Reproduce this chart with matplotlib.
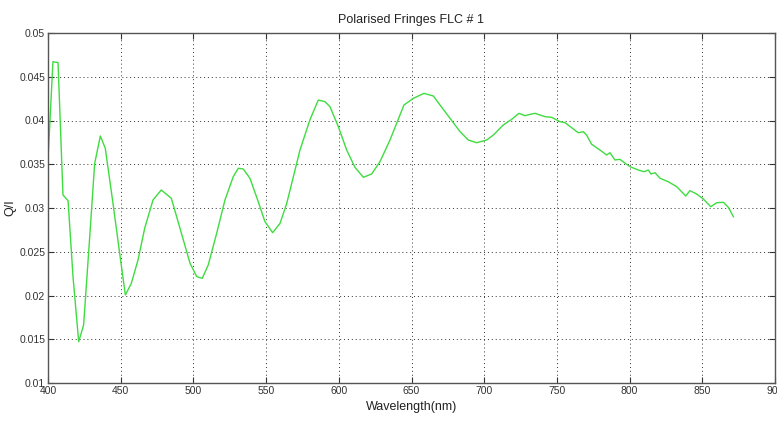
import matplotlib
matplotlib.use("Agg")
import matplotlib.pyplot as plt
import numpy as np

wavelength = [400.0, 403.4, 406.9, 410.3, 413.8, 417.2, 421.1, 424.5, 428.7, 432.1,
              436.0, 439.4, 444.7, 449.3, 453.2, 457.3, 461.9, 466.5, 472.2, 477.9,
              484.8, 488.5, 493.1, 497.7, 502.3, 506.1, 510.2, 516.0, 521.7, 527.4,
              530.9, 534.3, 538.9, 544.6, 549.2, 554.5, 559.6, 564.2, 569.9, 573.3,
              580.2, 585.9, 590.5, 593.9, 599.7, 605.4, 611.1, 616.9, 622.6, 628.3,
              635.2, 639.8, 644.8, 651.3, 658.6, 665.0, 669.6, 676.5, 683.4, 689.1,
              694.8, 701.7, 706.3, 713.1, 718.9, 723.9, 728.0, 731.5, 734.9, 741.8,
              746.4, 752.1, 755.6, 764.7, 768.2, 770.4, 773.9, 779.6, 784.2, 786.5,
              789.9, 793.3, 800.3, 806.0, 809.9, 812.9, 814.7, 817.5, 820.9, 826.6,
              832.4, 838.6, 841.5, 846.1, 850.7, 855.8, 859.9, 864.5, 867.9, 871.4]
q_over_i = [0.0355, 0.04672, 0.04661, 0.03149, 0.03084, 0.02215, 0.01472, 0.01663, 0.02672, 0.0351,
            0.03823, 0.03682, 0.03053, 0.02482, 0.02006, 0.02139, 0.02406, 0.02768, 0.03091, 0.03206,
            0.03111, 0.0290, 0.02634, 0.02368, 0.02215, 0.02197, 0.02349, 0.02711, 0.03091, 0.03358,
            0.03454, 0.03446, 0.03339, 0.03072, 0.02844, 0.02718, 0.02825, 0.03053, 0.03434, 0.03663,
            0.0401, 0.04234, 0.04215, 0.04158, 0.03929, 0.03663, 0.03465, 0.03351, 0.03389, 0.03529,
            0.03777, 0.03968, 0.04177, 0.04254, 0.0431, 0.0428, 0.04177, 0.04025, 0.03872, 0.03777,
            0.03746, 0.03777, 0.03834, 0.03949, 0.04013, 0.04082, 0.04055, 0.0407, 0.04082, 0.04044,
            0.04036, 0.03987, 0.03975, 0.0386, 0.03872, 0.03834, 0.03728, 0.03663, 0.03606, 0.03632,
            0.03549, 0.03556, 0.03472, 0.03434, 0.03415, 0.03434, 0.03389, 0.03403, 0.0334, 0.0330,
            0.03244, 0.03137, 0.03198, 0.0316, 0.03103, 0.03015, 0.0306, 0.03065, 0.03008, 0.0290]

xticks = np.arange(400, 901, 50)
yticks = [0.01, 0.015, 0.02, 0.025, 0.03, 0.035, 0.04, 0.045, 0.05]
ytick_labels = ["0.01", "0.015", "0.02", "0.025", "0.03", "0.035", "0.04", "0.045", "0.05"]

plt.rcParams["font.family"] = ["Liberation Sans Narrow", "Liberation Sans", "DejaVu Sans"]

fig = plt.figure(figsize=(7.77, 4.24), dpi=100)
ax = fig.add_axes([48 / 777, 41 / 424, 727 / 777, 350 / 424])

ax.plot(wavelength, q_over_i, color="#3fdc3f", lw=1.0)

ax.set_xlim(400, 900)
ax.set_ylim(0.01, 0.05)
ax.set_xticks(xticks)
ax.set_xticklabels([str(t) for t in xticks])
ax.set_yticks(yticks)
ax.set_yticklabels(ytick_labels)
ax.tick_params(direction="in", length=4, width=0.8, top=True, right=True,
               labelsize=7.5, colors="#333333", pad=2)
ax.grid(True, color="#333333", ls=(0, (1, 3)), lw=0.7)
for s in ax.spines.values():
    s.set_color("#555555")
    s.set_linewidth(1.0)

ax.set_title("Polarised Fringes FLC # 1", fontsize=9, color="#222222", pad=7)
ax.set_xlabel("Wavelength(nm)", fontsize=9, color="#222222", labelpad=4)
ax.set_ylabel("Q/I", fontsize=9, color="#222222")
# MATLAB puts the y label a little closer in than matplotlib's default
ax.yaxis.set_label_coords(-0.043, 0.5)

fig.savefig("out.png", dpi=100)
